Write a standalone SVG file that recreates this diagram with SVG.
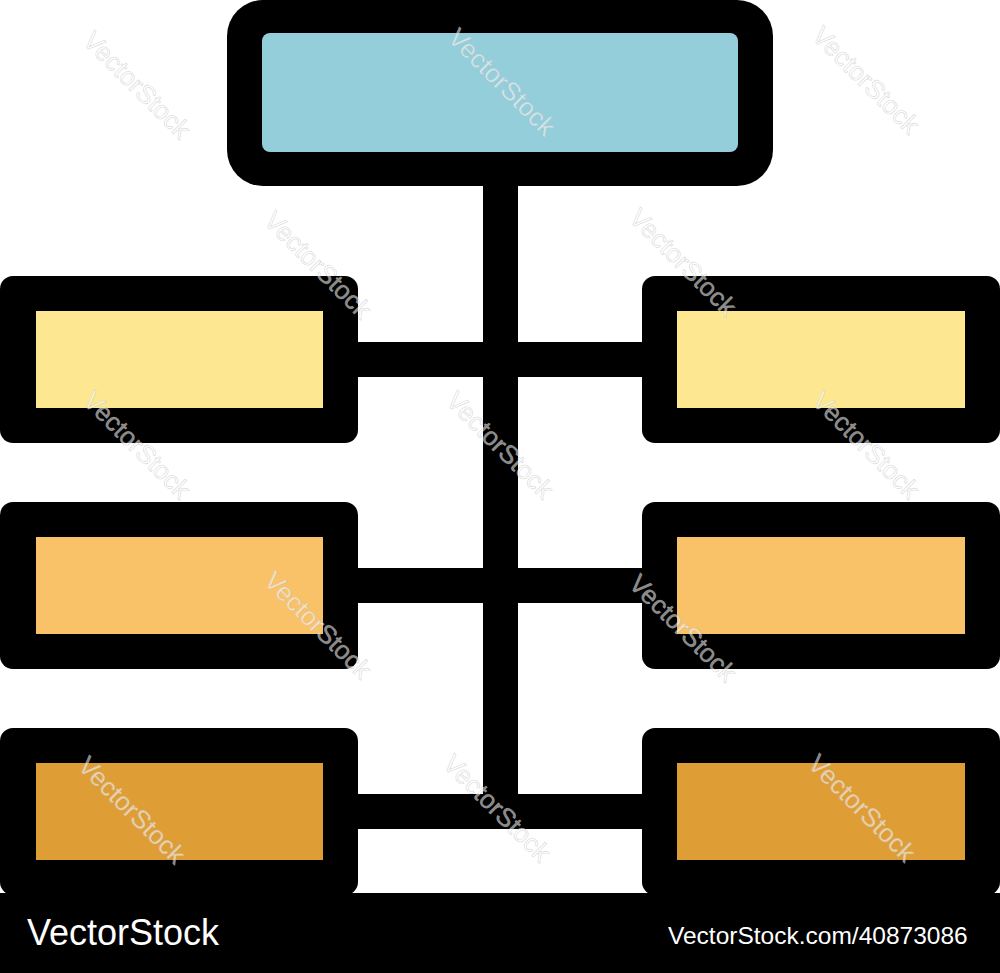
<svg xmlns="http://www.w3.org/2000/svg" width="1000" height="973" viewBox="0 0 1000 973">
<style>
.outer{fill:#000}
.wm{font-family:"Liberation Sans",Arial,sans-serif;font-size:26px;fill:#ffffff;fill-opacity:0.55;stroke:#bbbbbb;stroke-width:0.6;stroke-opacity:0.6}
.foot{font-family:"Liberation Sans",Arial,sans-serif;fill:#fff}
</style>
<rect width="1000" height="973" fill="#fff"/>
<g id="connectors" fill="#000">
<rect x="483" y="180" width="35" height="649"/>
<rect x="350" y="342" width="300" height="35"/>
<rect x="350" y="568" width="300" height="35"/>
<rect x="350" y="794" width="300" height="35"/>
</g>
<g id="node-top">
<rect class="outer" x="227" y="0" width="546" height="186" rx="36"/>
<rect x="262" y="33" width="476" height="119" rx="8" fill="#94CEDB"/>
</g>
<g id="node-l1">
<rect class="outer" x="0" y="276" width="358" height="167" rx="13"/>
<rect x="36" y="311" width="287" height="97" fill="#FDE891"/>
</g>
<g id="node-r1">
<rect class="outer" x="642" y="276" width="358" height="167" rx="13"/>
<rect x="677" y="311" width="288" height="97" fill="#FDE891"/>
</g>
<g id="node-l2">
<rect class="outer" x="0" y="502" width="358" height="167" rx="13"/>
<rect x="36" y="537" width="287" height="97" fill="#F9C268"/>
</g>
<g id="node-r2">
<rect class="outer" x="642" y="502" width="358" height="167" rx="13"/>
<rect x="677" y="537" width="288" height="97" fill="#F9C268"/>
</g>
<g id="node-l3">
<rect class="outer" x="0" y="728" width="358" height="167" rx="13"/>
<rect x="36" y="763" width="287" height="97" fill="#DF9D35"/>
</g>
<g id="node-r3">
<rect class="outer" x="642" y="728" width="358" height="167" rx="13"/>
<rect x="677" y="763" width="288" height="97" fill="#DF9D35"/>
</g>
<g id="watermarks">
<text class="wm" transform="translate(137,85) rotate(45)" text-anchor="middle" dy="9">VectorStock</text>
<text class="wm" transform="translate(502,82) rotate(45)" text-anchor="middle" dy="9">VectorStock</text>
<text class="wm" transform="translate(866,80) rotate(45)" text-anchor="middle" dy="9">VectorStock</text>
<text class="wm" transform="translate(318,265) rotate(45)" text-anchor="middle" dy="9">VectorStock</text>
<text class="wm" transform="translate(683,262) rotate(45)" text-anchor="middle" dy="9">VectorStock</text>
<text class="wm" transform="translate(137,445) rotate(45)" text-anchor="middle" dy="9">VectorStock</text>
<text class="wm" transform="translate(500,445) rotate(45)" text-anchor="middle" dy="9">VectorStock</text>
<text class="wm" transform="translate(866,445) rotate(45)" text-anchor="middle" dy="9">VectorStock</text>
<text class="wm" transform="translate(318,625) rotate(45)" text-anchor="middle" dy="9">VectorStock</text>
<text class="wm" transform="translate(683,628) rotate(45)" text-anchor="middle" dy="9">VectorStock</text>
<text class="wm" transform="translate(132,810) rotate(45)" text-anchor="middle" dy="9">VectorStock</text>
<text class="wm" transform="translate(497,808) rotate(45)" text-anchor="middle" dy="9">VectorStock</text>
<text class="wm" transform="translate(862,808) rotate(45)" text-anchor="middle" dy="9">VectorStock</text>
</g>
<g id="footer">
<rect x="0" y="893" width="1000" height="80" fill="#000"/>
<text class="foot" x="27" y="945" font-size="36">VectorStock</text>
<text class="foot" x="668" y="944" font-size="24.5">VectorStock.com/40873086</text>
</g>
</svg>
